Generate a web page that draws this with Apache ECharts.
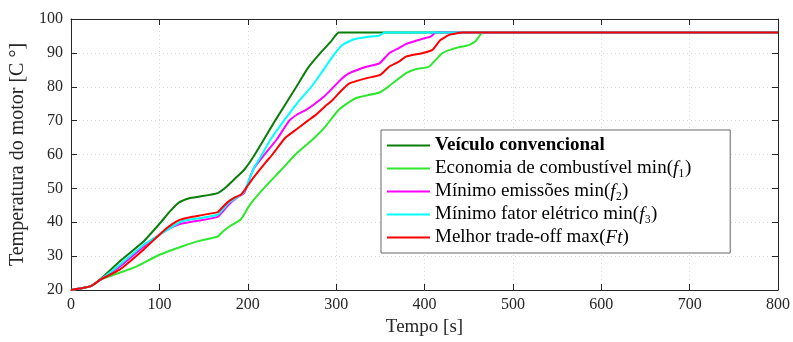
<!DOCTYPE html>
<html>
<head>
<meta charset="utf-8">
<script src="https://cdn.jsdelivr.net/npm/echarts@6/dist/echarts.min.js"></script>
<style>
  html, body { margin: 0; padding: 0; background: #fff; }
  #chart { width: 793px; height: 342px; }
</style>
</head>
<body>
<div id="chart"></div>
<script>
// [tempo (s), temperatura (°C)]
var convencional = [[0, 20], [12, 20.5], [23, 21.2], [35, 23.6], [55, 28.4], [82, 34.3], [100, 39.5], [112, 43.2], [122, 45.8], [134, 47.1], [146, 47.6], [166, 48.6], [176, 50.5], [186, 53.0], [196, 55.5], [208, 60.0], [231, 70.0], [255, 80.0], [268, 85.5], [283, 90.2], [294, 93.3], [303, 96], [800, 96]]
var combustivel = [[0, 20], [12, 20.5], [23, 21.2], [33, 23.0], [55, 25.1], [74, 26.9], [100, 30.4], [127, 33.0], [145, 34.5], [166, 35.8], [172, 37.3], [180, 38.9], [192, 40.8], [202, 45.0], [215, 49.1], [238, 55.5], [254, 60.0], [275, 64.8], [287, 68.0], [303, 73.2], [322, 76.6], [349, 78.3], [360, 80.2], [379, 84.0], [392, 85.3], [405, 85.9], [420, 89.9], [435, 91.4], [450, 92.3], [458, 93.5], [466, 96], [800, 96]]
var emissoes = [[0, 20], [12, 20.5], [23, 21.2], [33, 23.0], [55, 26.9], [82, 32.8], [100, 36.3], [115, 38.6], [123, 39.5], [135, 40.1], [145.5, 40.5], [166, 41.6], [172, 43.2], [178, 45.1], [188, 47.3], [196, 48.6], [206, 55.5], [219, 60.0], [233, 64.5], [247, 70.0], [256, 71.8], [266, 73.2], [276, 75.0], [287, 77.3], [296, 79.6], [306, 82.3], [315, 84.0], [334, 85.9], [349, 86.9], [360, 89.9], [371, 91.4], [379, 92.6], [397, 94.1], [407, 94.8], [413, 96], [800, 96]]
var fatorEletrico = [[0, 20], [12, 20.5], [23, 21.2], [33, 23.0], [55, 27.4], [82, 33.3], [100, 36.3], [123, 40.0], [135, 40.8], [145.5, 41.2], [166, 42.2], [172, 43.8], [178, 45.6], [188, 47.4], [195, 48.6], [207, 56.0], [215, 59.5], [226, 64.5], [241, 70.0], [256, 75.2], [272, 80.0], [283, 84.0], [296, 88.9], [307, 92.3], [320, 94.0], [335, 94.7], [349, 95.1], [355, 96], [800, 96]]
var tradeOff = [[0, 20], [12, 20.5], [23, 21.2], [33, 23.0], [55, 26.0], [82, 31.9], [104, 37.3], [115, 39.5], [123, 40.7], [135, 41.5], [145.5, 42.0], [166, 43.0], [172, 44.6], [178, 46.1], [186, 47.4], [193, 48.3], [206, 53.0], [221, 57.9], [228, 60.0], [242, 64.8], [256, 67.6], [268, 70.0], [277, 71.7], [287, 74.1], [296, 76.1], [306, 78.9], [315, 81.0], [334, 82.5], [350, 83.5], [360, 85.9], [371, 87.4], [379, 88.9], [397, 89.9], [409, 90.9], [418, 93.8], [428, 95.3], [443, 96], [800, 96]]

var nomes = ['Veículo convencional', 'Economia de combustível min(f1)', 'Mínimo emissões min(f2)', 'Mínimo fator elétrico min(f3)', 'Melhor trade-off max(Ft)']
var rotulos = [
    '{b|Veículo convencional}',
    '{n|Economia de combustível min(}{i|f}{n|₁)}',
    '{n|Mínimo emissões min(}{i|f}{n|₂)}',
    '{n|Mínimo fator elétrico min(}{i|f}{n|₃)}',
    '{n|Melhor trade-off max(}{i|Ft}{n|)}'
]
var cores = ['#0b7d0b', '#2ee82e', '#ff00ff', '#00ffff', '#ff0000']
var dados = [convencional, combustivel, emissoes, fatorEletrico, tradeOff]

var fonte = 'Liberation Serif'
var corEixo = '#262626'

var chart = echarts.init(document.getElementById('chart'), null, { renderer: 'canvas' })

function eixoX(pos, principal) {
    return {
        type: 'value',
        position: pos,
        min: 0,
        max: 800,
        interval: 100,
        name: principal ? 'Tempo [s]' : '',
        nameLocation: 'middle',
        nameGap: 27,
        nameTextStyle: { fontFamily: fonte, fontSize: 19, color: corEixo },
        axisLine: { show: true, onZero: false, lineStyle: { color: corEixo, width: 1 } },
        axisTick: { show: true, inside: true, length: 6, lineStyle: { color: corEixo } },
        axisLabel: { show: principal, margin: 7, fontFamily: fonte, fontSize: 16, color: corEixo },
        splitLine: { show: principal, lineStyle: { color: '#d9d9d9', type: [1, 3], width: 1 } }
    }
}

function eixoY(pos, principal) {
    return {
        type: 'value',
        position: pos,
        min: 20,
        max: 100,
        interval: 10,
        name: principal ? 'Temperatura do motor [C °]' : '',
        nameLocation: 'middle',
        nameGap: 35,
        nameTextStyle: { fontFamily: fonte, fontSize: 20, color: corEixo },
        axisLine: { show: true, onZero: false, lineStyle: { color: corEixo, width: 1 } },
        axisTick: { show: true, inside: true, length: 6, lineStyle: { color: corEixo } },
        axisLabel: { show: principal, margin: 8, fontFamily: fonte, fontSize: 16, color: corEixo },
        splitLine: { show: principal, lineStyle: { color: '#d9d9d9', type: [1, 3], width: 1 } }
    }
}

var series = dados.map(function(d, i) {
    return {
        name: nomes[i],
        type: 'line',
        data: d,
        xAxisIndex: 0,
        yAxisIndex: 0,
        symbol: 'none',
        smooth: 0.15,
        lineStyle: { color: cores[i], width: 2 },
        itemStyle: { color: cores[i] },
        animation: false
    }
})

var option = {
    animation: false,
    backgroundColor: '#fff',
    grid: { left: 71, right: 14, top: 19, bottom: 52 },
    xAxis: [eixoX('bottom', true), eixoX('top', false)],
    yAxis: [eixoY('left', true), eixoY('right', false)],
    legend: {
        orient: 'vertical',
        left: 381,
        top: 130,
        data: nomes,
        icon: 'rect',
        backgroundColor: '#fff',
        borderColor: '#666',
        borderWidth: 1,
        borderRadius: 0,
        padding: [6, 39, 6, 6],
        itemWidth: 43,
        itemHeight: 2,
        itemGap: 4,
        formatter: function(name) {
            return rotulos[nomes.indexOf(name)]
        },
        textStyle: {
            color: '#000',
            rich: {
                n: { fontFamily: fonte, fontSize: 19, lineHeight: 18, color: '#000' },
                b: { fontFamily: fonte, fontSize: 19, lineHeight: 18, fontWeight: 'bold', color: '#000' },
                i: { fontFamily: fonte, fontSize: 19, lineHeight: 18, fontStyle: 'italic', color: '#000' }
            }
        }
    },
    series: series
}

chart.setOption(option)
</script>
</body>
</html>
